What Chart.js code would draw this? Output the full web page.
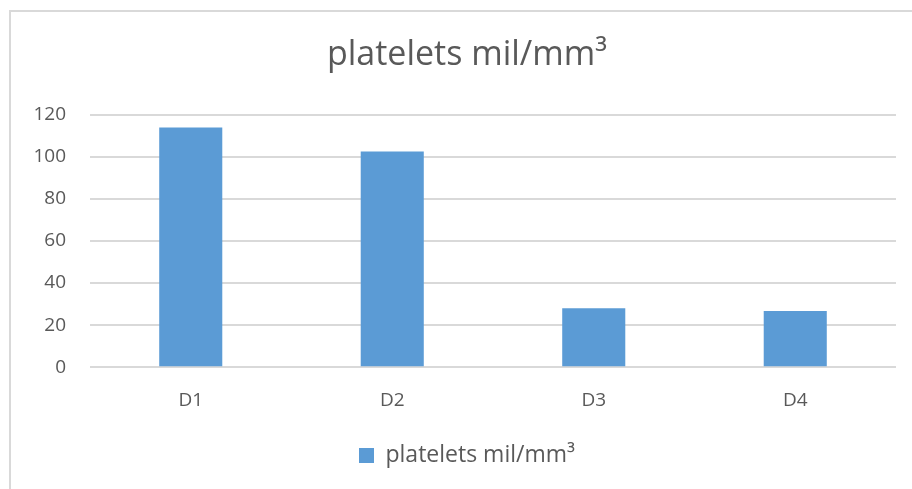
<!DOCTYPE html>
<html>
<head>
<meta charset="utf-8">
<title>platelets</title>
<script src="https://cdn.jsdelivr.net/npm/chart.js@4.4.0/dist/chart.umd.min.js"></script>
<style>
    html, body { margin: 0; padding: 0; background: white; }
    #wrap { position: relative; width: 912px; height: 489px; }
    #frame {
        position: absolute; left: 9px; top: 10px; right: -10px; bottom: -10px;
        border-left: 2px solid #d9d9d9; border-top: 2px solid #d9d9d9;
    }
    canvas { position: absolute; left: 0; top: 0; }
</style>
</head>
<body>
<div id="wrap">
    <div id="frame"></div>
    <canvas id="chart" width="912" height="489"></canvas>
</div>
<script>
const categories = ['D1', 'D2', 'D3', 'D4'];
const platelets = [114, 102.5, 28, 26.7];
const seriesName = 'platelets mil/mm\u00B3';
const yTicks = [0, 20, 40, 60, 80, 100, 120];

const textColor = '#595959';
const fontFamily = '"Open Sans", "Noto Sans", sans-serif';

const ctx = document.getElementById('chart').getContext('2d');
new Chart(ctx, {
    type: 'bar',
    data: {
        labels: categories,
        datasets: [{
            label: seriesName,
            data: platelets,
            backgroundColor: '#5b9bd5',
            borderWidth: 0,
            categoryPercentage: 1,
            barPercentage: 0.313
        }]
    },
    options: {
        responsive: false,
        animation: false,
        devicePixelRatio: 1,
        // title/legend are centred on the framed area, a bit right of the canvas centre
        layout: { padding: { left: 24, right: 2, top: 0, bottom: 12 } },
        plugins: {
            title: {
                display: true,
                text: seriesName,
                color: textColor,
                font: { family: fontFamily, size: 34, weight: 'normal' },
                padding: { top: 35, bottom: 39 }
            },
            legend: {
                position: 'bottom',
                labels: {
                    color: textColor,
                    font: { family: fontFamily, size: 23 },
                    boxWidth: 15,
                    boxHeight: 15,
                    padding: 10
                }
            },
            tooltip: { enabled: false }
        },
        scales: {
            x: {
                grid: { display: false, drawTicks: false },
                border: { display: false },
                ticks: {
                    color: textColor,
                    font: { family: fontFamily, size: 19 },
                    padding: 22
                }
            },
            y: {
                min: 0,
                max: 120,
                afterFit: (axis) => { axis.width = 66; },
                afterBuildTicks: (axis) => { axis.ticks = yTicks.map(v => ({ value: v })); },
                grid: { color: '#d9d9d9', lineWidth: 2, drawTicks: false },
                border: { display: false },
                ticks: {
                    color: textColor,
                    font: { family: fontFamily, size: 19 },
                    padding: 24
                }
            },
            // empty spacer on the right so the plot ends where the reference's does
            spacer: {
                type: 'linear',
                position: 'right',
                afterFit: (axis) => { axis.width = 14; },
                grid: { display: false, drawTicks: false },
                border: { display: false },
                ticks: { display: false }
            }
        }
    }
});
</script>
</body>
</html>
